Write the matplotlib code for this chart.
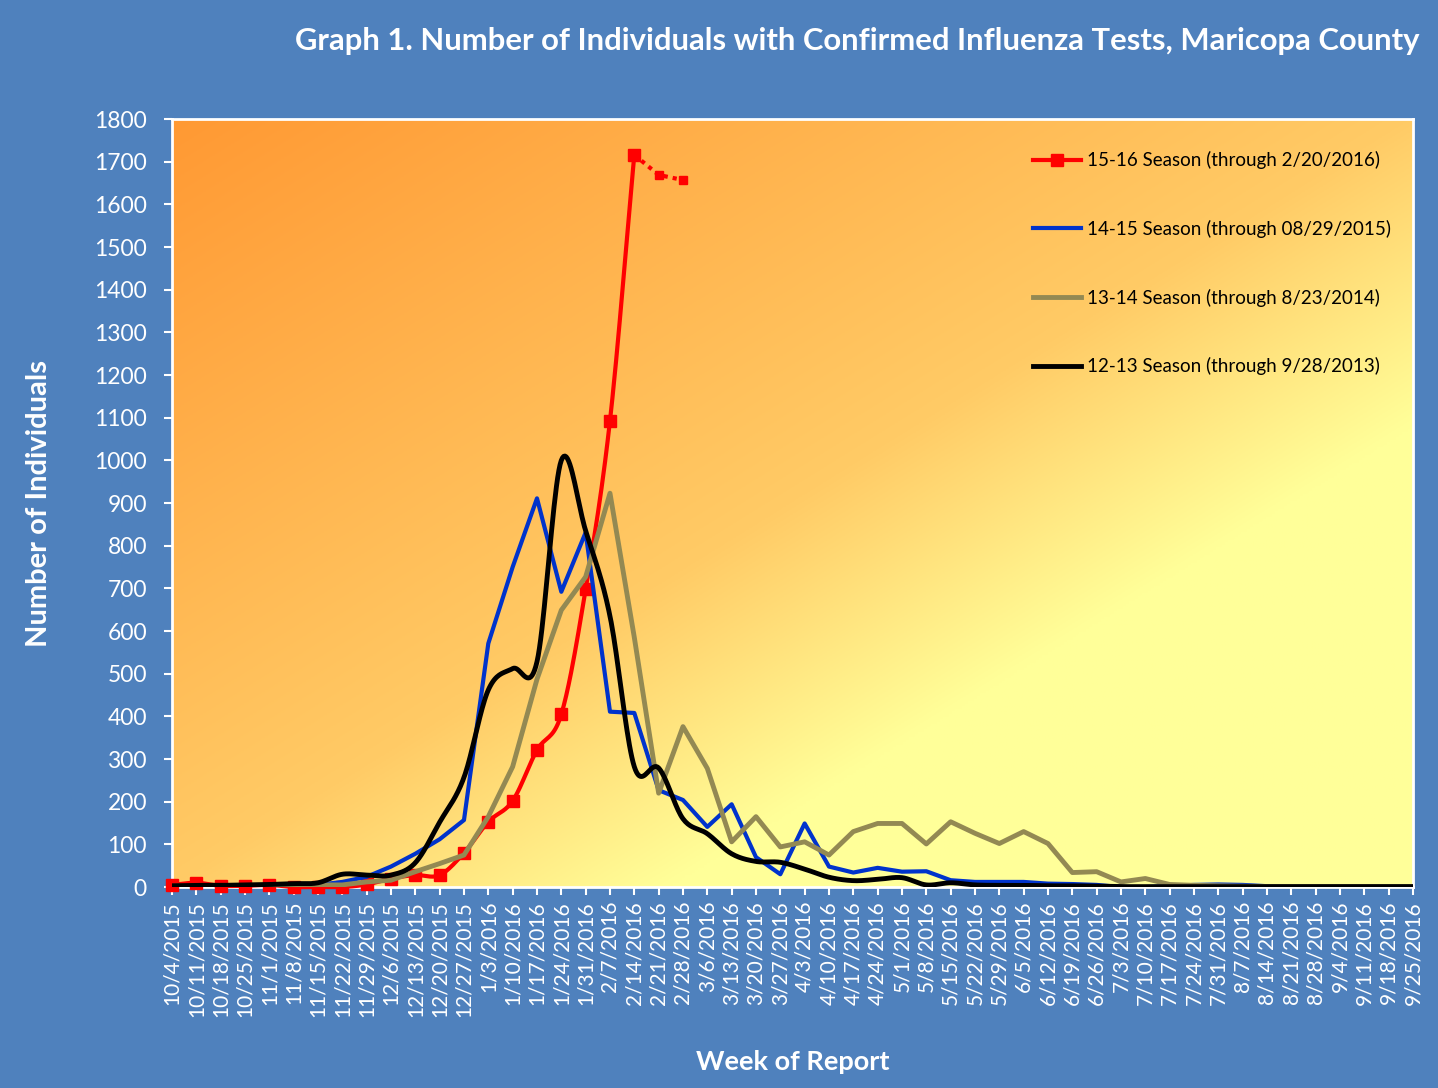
import matplotlib
import matplotlib.pyplot as plt
import numpy as np

font_size = 16
params = {
	"font.size": font_size,
	"font.family": ["Lato", "DejaVu Sans"],
}
matplotlib.rcParams.update(params)

bg_blue = "#4F81BD"

weeks = ["10/4/2015", "10/11/2015", "10/18/2015", "10/25/2015", "11/1/2015", "11/8/2015",
	"11/15/2015", "11/22/2015", "11/29/2015", "12/6/2015", "12/13/2015", "12/20/2015",
	"12/27/2015", "1/3/2016", "1/10/2016", "1/17/2016", "1/24/2016", "1/31/2016",
	"2/7/2016", "2/14/2016", "2/21/2016", "2/28/2016", "3/6/2016", "3/13/2016",
	"3/20/2016", "3/27/2016", "4/3/2016", "4/10/2016", "4/17/2016", "4/24/2016",
	"5/1/2016", "5/8/2016", "5/15/2016", "5/22/2016", "5/29/2016", "6/5/2016",
	"6/12/2016", "6/19/2016", "6/26/2016", "7/3/2016", "7/10/2016", "7/17/2016",
	"7/24/2016", "7/31/2016", "8/7/2016", "8/14/2016", "8/21/2016", "8/28/2016",
	"9/4/2016", "9/11/2016", "9/18/2016", "9/25/2016"]

# 15-16 season, confirmed weeks (through 2/20/2016)
season_1516 = [5, 10, 3, 3, 5, 0, 0, 0, 6, 20, 28, 28, 80, 153, 202, 321, 405, 698, 1093, 1716]
# last weeks still coming in (dotted)
season_1516_prelim = [1716, 1669, 1657]

season_1415 = [2, 2, 2, 3, 3, 4, 5, 12, 24, 48, 78, 112, 157, 571, 750, 911, 692, 831,
	411, 408, 227, 204, 141, 194, 70, 30, 149, 48, 34, 45, 36, 37, 16, 12, 12, 12, 8, 7,
	5, 0, 0, 2, 5, 6, 5, 2, 1, 1, 1, 1, 1, 1]

season_1314 = [2, 2, 2, 3, 3, 4, 5, 5, 12, 16, 36, 55, 75, 165, 282, 487, 649, 727, 923,
	585, 220, 376, 278, 106, 165, 94, 106, 75, 130, 149, 149, 101, 153, 126, 102, 130, 102,
	34, 36, 12, 20, 6, 4, 3, 2, 1, 1, 1, 1, 1, 1, 1]

season_1213 = [3, 4, 4, 5, 6, 8, 10, 30, 28, 28, 57, 152, 257, 462, 512, 528, 1000, 835,
	635, 282, 279, 160, 125, 78, 60, 58, 42, 23, 15, 18, 22, 5, 10, 5, 4, 4, 3, 3, 2, 1,
	1, 1, 1, 1, 1, 1, 1, 1, 1, 1, 1, 1]


def smooth(x, y, n=20):
	# catmull-rom through the points, like excel's smoothed line
	x = np.asarray(x, dtype=float)
	y = np.asarray(y, dtype=float)
	px = np.concatenate([[2 * x[0] - x[1]], x, [2 * x[-1] - x[-2]]])
	py = np.concatenate([[2 * y[0] - y[1]], y, [2 * y[-1] - y[-2]]])
	xs, ys = [], []
	t = np.linspace(0, 1, n, endpoint=False)
	for i in range(1, len(px) - 2):
		for p, out in ((px, xs), (py, ys)):
			p0, p1, p2, p3 = p[i - 1], p[i], p[i + 1], p[i + 2]
			out.extend(0.5 * ((2 * p1) + (-p0 + p2) * t + (2 * p0 - 5 * p1 + 4 * p2 - p3) * t ** 2
				+ (-p0 + 3 * p1 - 3 * p2 + p3) * t ** 3))
	xs.append(x[-1])
	ys.append(y[-1])
	return np.array(xs), np.array(ys)


fig = plt.figure(figsize=(14.38, 10.88), dpi=100, facecolor=bg_blue)
ax = fig.add_axes([0.1196, 0.1847, 0.8630, 0.7059])

# gradient background of the plot area
gx, gy = np.meshgrid(np.linspace(0, 1, 400), np.linspace(0, 1, 300))
tt = (gx + gy) / 2
stops = [0, 0.5, 0.7, 1]
rgb = np.dstack([
	np.interp(tt, stops, [255, 255, 255, 255]),
	np.interp(tt, stops, [153, 203, 255, 255]),
	np.interp(tt, stops, [51, 102, 153, 153]),
]) / 255
ax.imshow(rgb, extent=[0, 1, 0, 1], transform=ax.transAxes, aspect="auto", zorder=0, origin="upper")

xi = np.arange(len(weeks))

sx, sy = smooth(xi[:len(season_1516)], season_1516)
ax.plot(sx, sy, color="red", linewidth=3, zorder=3, clip_on=False)
ax.plot(xi[:len(season_1516)], season_1516, linestyle="none", marker="s", markersize=9,
	color="red", zorder=3, clip_on=False)
px = xi[len(season_1516) - 1:len(season_1516) - 1 + len(season_1516_prelim)]
ax.plot(px, season_1516_prelim, color="red", linewidth=3, linestyle=(0, (1, 1.2)), marker="s",
	markersize=6, zorder=3)
ax.plot([], [], color="red", linewidth=3, marker="s", markersize=9, label="15-16 Season (through 2/20/2016)")

ax.plot(xi, season_1415, color="#0033CC", linewidth=3, zorder=4, label="14-15 Season (through 08/29/2015)")
ax.plot(xi, season_1314, color="#938953", linewidth=3.5, zorder=5, label="13-14 Season (through 8/23/2014)")

sx, sy = smooth(xi, season_1213)
ax.plot(sx, sy, color="black", linewidth=3.5, zorder=6, label="12-13 Season (through 9/28/2013)")

ax.set_xlim(0, len(weeks) - 1)
ax.set_ylim(0, 1800)
ax.set_yticks(np.arange(0, 1801, 100))
ax.set_xticks(xi)
ax.set_xticklabels(weeks, rotation=90, fontsize=15, color="white")
ax.tick_params(axis="y", colors="white", labelsize=16.5, length=6, width=1.5, pad=12)
ax.tick_params(axis="x", colors="white", length=6, width=1.5, pad=4)

for s in ax.spines.values():
	s.set_color("white")
	s.set_linewidth(2)

ax.set_ylabel("Number of Individuals", color="white", fontsize=21, fontweight="bold", labelpad=30)
ax.set_xlabel("Week of Report", color="white", fontsize=19.5, fontweight="bold", labelpad=24)

fig.text(0.987, 0.962, "Graph 1. Number of Individuals with Confirmed Influenza Tests, Maricopa County",
	color="white", fontsize=22.3, fontweight="bold", ha="right", va="center")

ax.legend(loc="upper left", bbox_to_anchor=(0.68, 0.98), frameon=False, fontsize=13.5,
	labelspacing=2.7, handlelength=2.6, handletextpad=0.3)

plt.savefig("out.png", facecolor=bg_blue)
plt.close()
